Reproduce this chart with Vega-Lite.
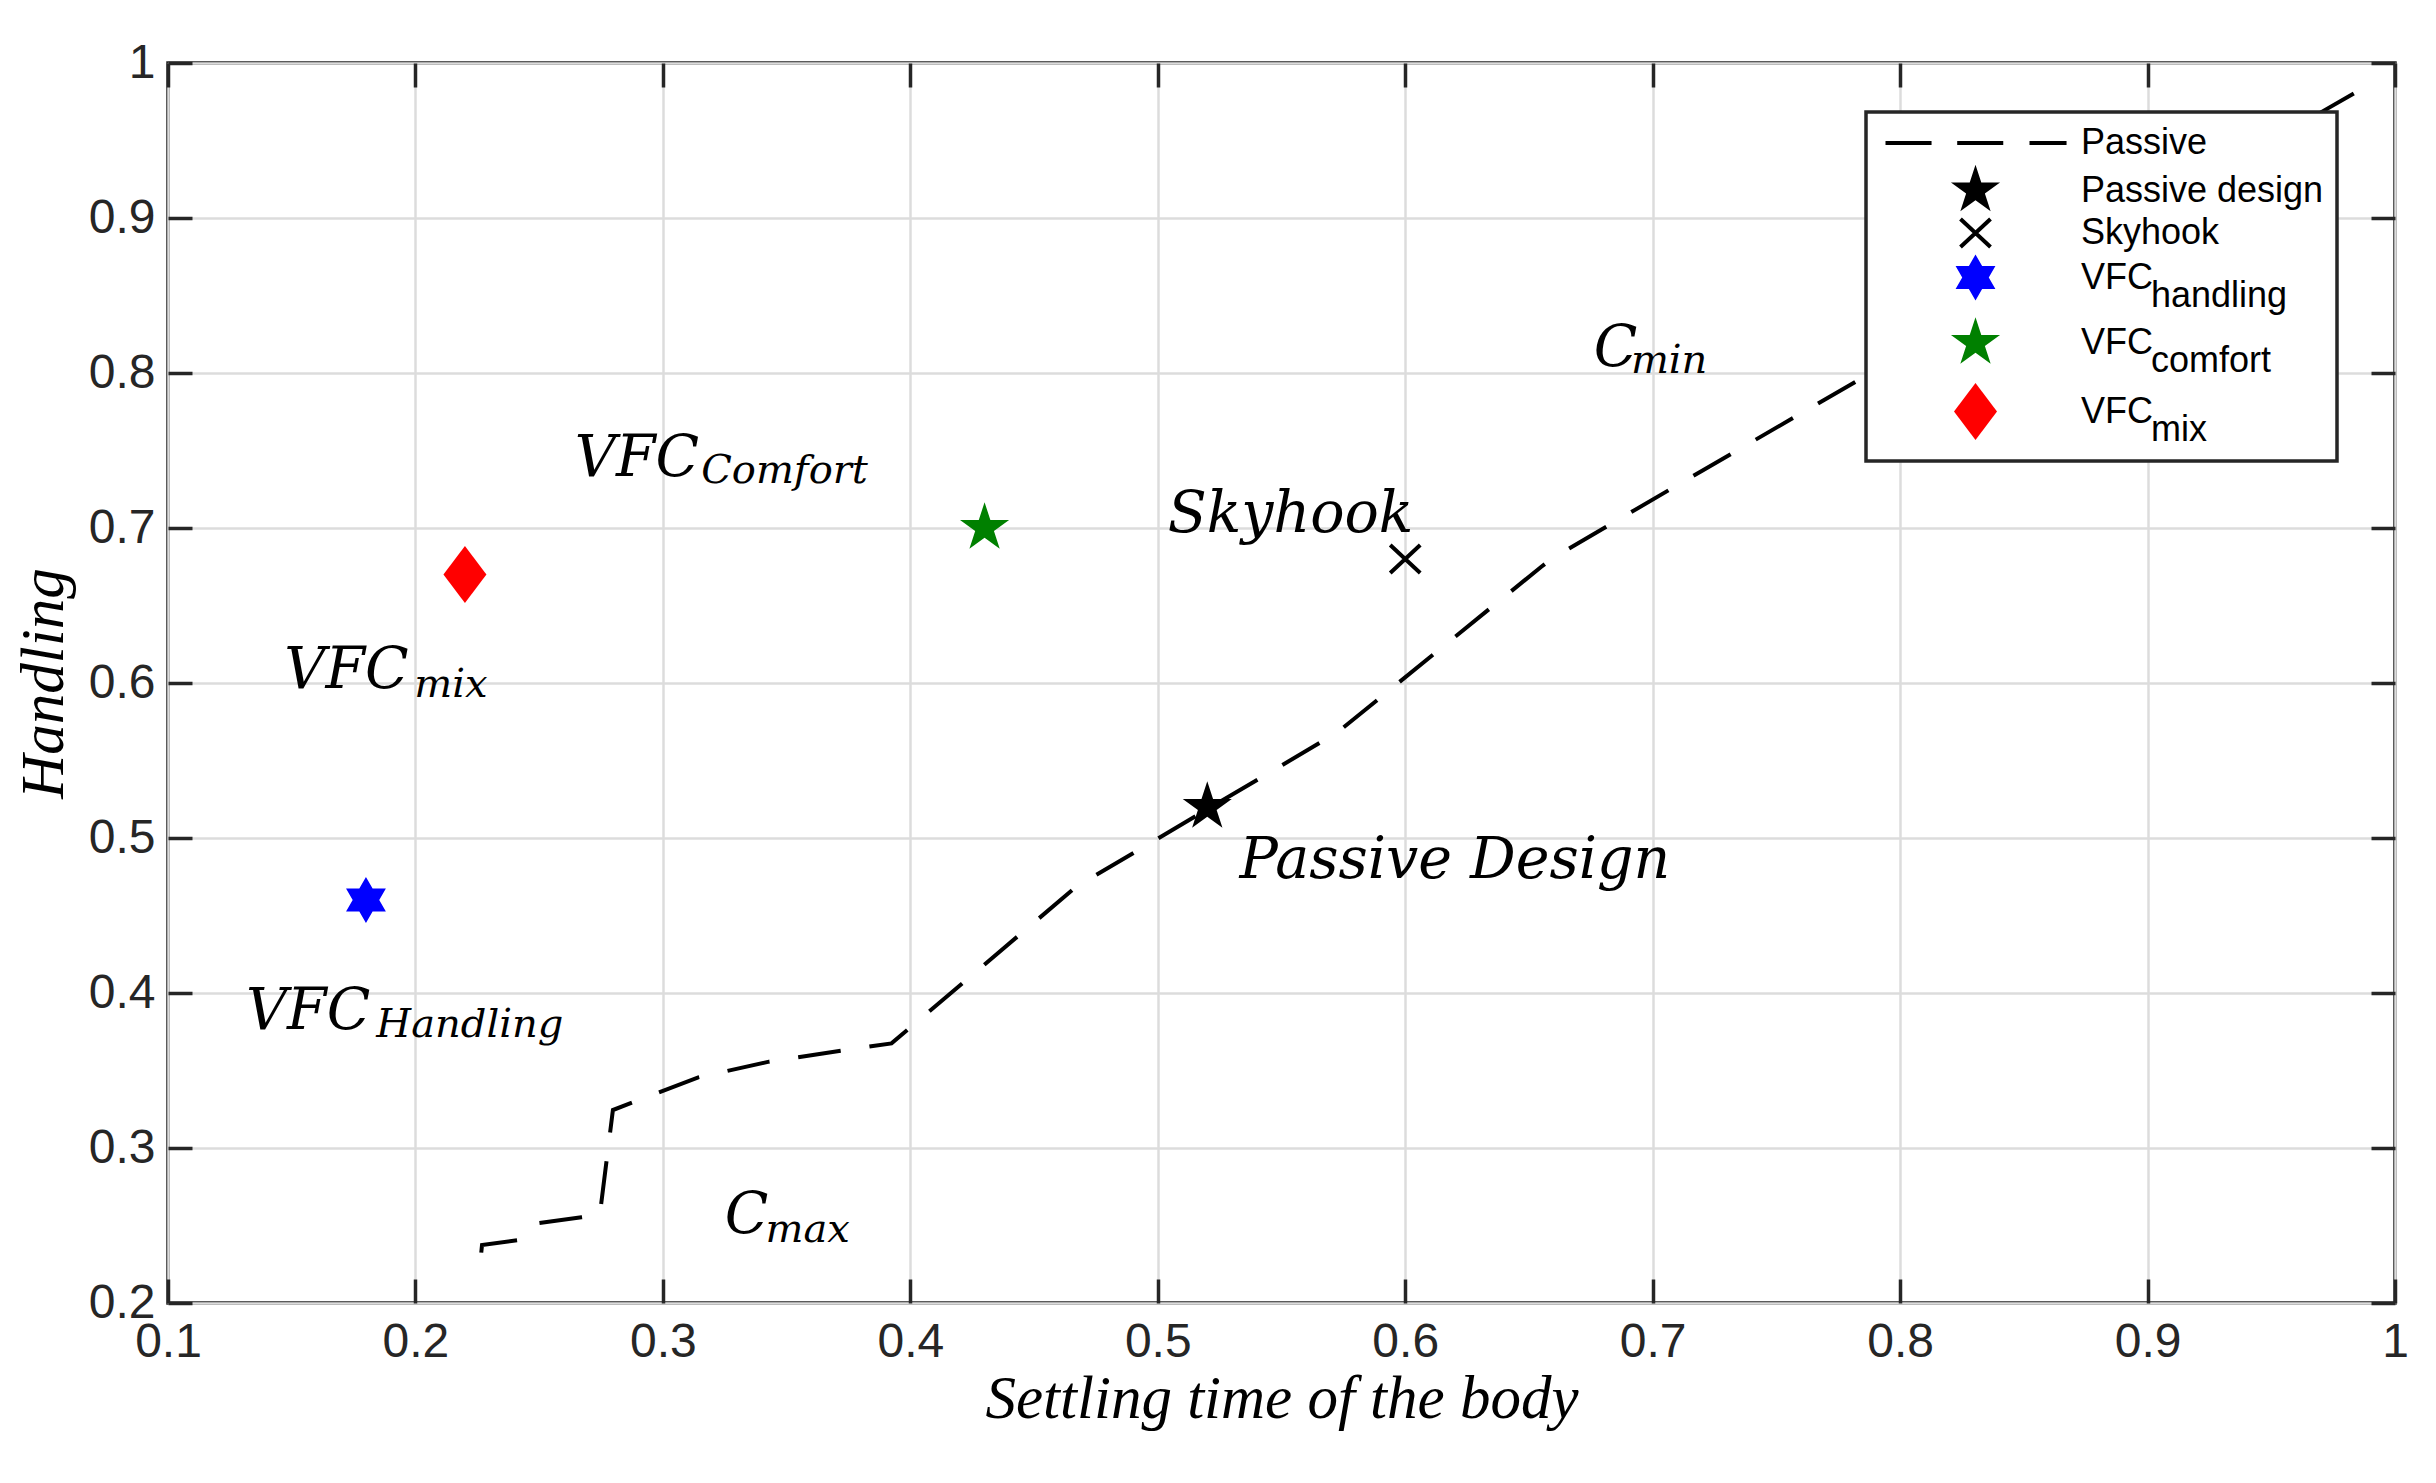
{
  "$schema": "https://vega.github.io/schema/vega-lite/v6.json",
  "width": 2227,
  "height": 1240,
  "autosize": {"type": "none"},
  "padding": {"left": 168, "top": 63, "right": 41, "bottom": 180},
  "background": "white",
  "datasets": {
    "passive": [
      {"x": 0.2266, "y": 0.2325},
      {"x": 0.2269, "y": 0.2374},
      {"x": 0.2416, "y": 0.2406},
      {"x": 0.2489, "y": 0.2514},
      {"x": 0.2671, "y": 0.2553},
      {"x": 0.2745, "y": 0.2568},
      {"x": 0.2798, "y": 0.3245},
      {"x": 0.3143, "y": 0.3456},
      {"x": 0.3429, "y": 0.3557},
      {"x": 0.3722, "y": 0.3628},
      {"x": 0.3924, "y": 0.3675},
      {"x": 0.467, "y": 0.4685},
      {"x": 0.5725, "y": 0.568},
      {"x": 0.655, "y": 0.675},
      {"x": 0.66, "y": 0.681},
      {"x": 0.72, "y": 0.737},
      {"x": 0.8, "y": 0.811},
      {"x": 0.9, "y": 0.904},
      {"x": 0.987, "y": 0.9837}
    ],
    "markers": [
      {"series": "Passive design", "x": 0.52, "y": 0.52},
      {"series": "Skyhook", "x": 0.6, "y": 0.68},
      {"series": "VFC_handling", "x": 0.18, "y": 0.46},
      {"series": "VFC_comfort", "x": 0.43, "y": 0.7},
      {"series": "VFC_mix", "x": 0.22, "y": 0.67}
    ],
    "labels": [
      {"label": "VFC", "x": 0.2644, "y": 0.7337},
      {"label": "Skyhook", "x": 0.504, "y": 0.6976},
      {"label": "VFC", "x": 0.147, "y": 0.5966},
      {"label": "Passive Design", "x": 0.533, "y": 0.4744},
      {"label": "VFC", "x": 0.1315, "y": 0.3766},
      {"label": "C", "x": 0.325, "y": 0.245},
      {"label": "C", "x": 0.6762, "y": 0.8045}
    ],
    "subscripts": [
      {"label": "Comfort", "x": 0.3155, "y": 0.729},
      {"label": "mix", "x": 0.1995, "y": 0.5912},
      {"label": "Handling", "x": 0.1842, "y": 0.3713},
      {"label": "max", "x": 0.3415, "y": 0.2395},
      {"label": "min", "x": 0.6912, "y": 0.7998}
    ]
  },
  "layer": [
    {
      "data": {"name": "passive"},
      "mark": {"type": "line", "color": "black", "strokeWidth": 4, "strokeDash": [43, 29]},
      "encoding": {
        "x": {
          "field": "x", "type": "quantitative",
          "scale": {"domain": [0.1, 1], "nice": false, "zero": false},
          "axis": {
            "orient": "bottom", "grid": true,
            "values": [0.1, 0.2, 0.3, 0.4, 0.5, 0.6, 0.7, 0.8, 0.9, 1],
            "format": "~g", "title": "Settling time of the body",
            "labelPadding": 39.5, "titlePadding": 3
          }
        },
        "y": {
          "field": "y", "type": "quantitative",
          "scale": {"domain": [0.2, 1], "nice": false, "zero": false},
          "axis": {
            "orient": "left", "grid": true,
            "values": [0.2, 0.3, 0.4, 0.5, 0.6, 0.7, 0.8, 0.9, 1],
            "format": "~g", "title": "Handling",
            "labelPadding": 37, "titlePadding": 13
          }
        }
      }
    },
    {
      "data": {"name": "markers"},
      "mark": {"type": "point", "filled": true, "size": 900, "strokeWidth": 0, "opacity": 1},
      "encoding": {
        "x": {
          "field": "x", "type": "quantitative",
          "axis": {"orient": "top", "grid": false, "labels": false, "title": null,
                   "values": [0.1, 0.2, 0.3, 0.4, 0.5, 0.6, 0.7, 0.8, 0.9, 1]}
        },
        "y": {
          "field": "y", "type": "quantitative",
          "axis": {"orient": "right", "grid": false, "labels": false, "title": null,
                   "values": [0.2, 0.3, 0.4, 0.5, 0.6, 0.7, 0.8, 0.9, 1]}
        },
        "color": {
          "field": "series", "type": "nominal",
          "scale": {
            "domain": ["Passive", "Passive design", "Skyhook", "VFC_handling", "VFC_comfort", "VFC_mix"],
            "range": ["black", "black", "black", "#0000ff", "#008000", "#ff0000"]
          },
          "legend": {
            "title": null, "orient": "none", "legendX": 1698, "legendY": 49,
            "direction": "vertical", "columns": 1,
            "padding": 13, "rowPadding": 3.5, "symbolOffset": 78.5, "labelOffset": 87.5,
            "labelFont": "Liberation Sans", "labelFontSize": 36, "labelColor": "black", "labelLimit": 500,
            "symbolSize": 900, "symbolStrokeWidth": 0, "symbolOpacity": 1,
            "fillColor": "white", "strokeColor": "#262626", "zindex": 1,
            "labelExpr": "indexof(datum.label, '_') > 0 ? [split(datum.label, '_')[0], '\u200b\u00a0\u00a0\u00a0\u00a0\u00a0\u00a0\u00a0' + split(datum.label, '_')[1]] : datum.label",
            "encode": {"labels": {"lineHeight": {"value": 18}}}
          }
        },
        "shape": {
          "field": "series", "type": "nominal",
          "scale": {
            "domain": ["Passive", "Passive design", "Skyhook", "VFC_handling", "VFC_comfort", "VFC_mix"],
            "range": [
              "M-6,-0.133L-2.93,-0.133L-2.93,0.133L-6,0.133ZM-1.22,-0.133L1.85,-0.133L1.85,0.133L-1.22,0.133ZM3.6,-0.133L6.07,-0.133L6.07,0.133L3.6,0.133Z",
              "M0,-1.72L0.3861,-0.5315L1.6359,-0.5315L0.6249,0.203L1.011,1.3915L0,0.657L-1.011,1.3915L-0.6249,0.203L-1.6359,-0.5315L-0.3861,-0.5315Z",
              "M-1.0906,-0.8326L0.9094,1.0274L1.0906,0.8326L-0.9094,-1.0274ZM-0.9094,1.0274L1.0906,-0.8326L0.9094,-1.0274L-1.0906,0.8326Z",
              "M0,-1.533L0.4426,-0.7667L1.3278,-0.7667L0.8852,0L1.3278,0.7667L0.4426,0.7667L0,1.533L-0.4426,0.7667L-1.3278,0.7667L-0.8852,0L-1.3278,-0.7667L-0.4426,-0.7667Z",
              "M0,-1.72L0.3861,-0.5315L1.6359,-0.5315L0.6249,0.203L1.011,1.3915L0,0.657L-1.011,1.3915L-0.6249,0.203L-1.6359,-0.5315L-0.3861,-0.5315Z",
              "M0,-1.9L1.433,0L0,1.9L-1.433,0Z"
            ]
          },
          "legend": {
            "title": null, "orient": "none", "legendX": 1698, "legendY": 49,
            "direction": "vertical", "columns": 1,
            "padding": 13, "rowPadding": 3.5, "symbolOffset": 78.5, "labelOffset": 87.5,
            "labelFont": "Liberation Sans", "labelFontSize": 36, "labelColor": "black", "labelLimit": 500,
            "symbolSize": 900, "symbolStrokeWidth": 0, "symbolOpacity": 1,
            "fillColor": "white", "strokeColor": "#262626", "zindex": 1,
            "labelExpr": "indexof(datum.label, '_') > 0 ? [split(datum.label, '_')[0], '\u200b\u00a0\u00a0\u00a0\u00a0\u00a0\u00a0\u00a0' + split(datum.label, '_')[1]] : datum.label",
            "encode": {"labels": {"lineHeight": {"value": 18}}}
          }
        }
      }
    },
    {
      "data": {"name": "labels"},
      "mark": {"type": "text", "font": "DejaVu Serif", "fontStyle": "italic", "fontSize": 57,
               "align": "left", "baseline": "alphabetic", "color": "black"},
      "encoding": {
        "x": {"field": "x", "type": "quantitative", "axis": null},
        "y": {"field": "y", "type": "quantitative", "axis": null},
        "text": {"field": "label"}
      }
    },
    {
      "data": {"name": "subscripts"},
      "mark": {"type": "text", "font": "DejaVu Serif", "fontStyle": "italic", "fontSize": 40,
               "align": "left", "baseline": "alphabetic", "color": "black"},
      "encoding": {
        "x": {"field": "x", "type": "quantitative", "axis": null},
        "y": {"field": "y", "type": "quantitative", "axis": null},
        "text": {"field": "label"}
      }
    }
  ],
  "resolve": {"axis": {"x": "independent", "y": "independent"}},
  "config": {
    "view": {"stroke": "#262626", "strokeWidth": 3.5},
    "style": {"guide-label": {"lineHeight": 18}},
    "legend": {"strokeWidth": 3.5},
    "axis": {
      "domain": false,
      "gridColor": "#dcdcdc", "gridWidth": 2.5,
      "tickColor": "#262626", "tickWidth": 3.5, "tickSize": -24,
      "labelFont": "Liberation Sans", "labelFontSize": 48, "labelColor": "#262626",
      "labelFlush": false, "labelOverlap": false,
      "titleFont": "Liberation Serif", "titleFontStyle": "italic", "titleFontWeight": "normal",
      "titleFontSize": 61, "titleColor": "black"
    }
  }
}
